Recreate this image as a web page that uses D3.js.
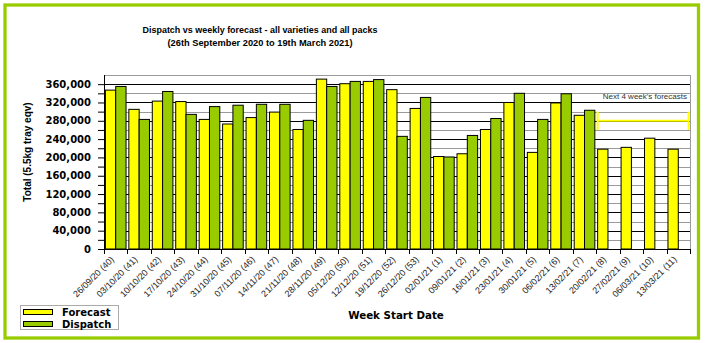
<!DOCTYPE html>
<html>
<head>
<meta charset="utf-8">
<script src="https://cdn.jsdelivr.net/npm/d3@7"></script>
<style>
  html, body { margin: 0; padding: 0; background: #fff; }
  svg { display: block; }
</style>
</head>
<body>
<svg id="chart" width="708" height="343"></svg>
<script>
const categories = [
  "26/09/20 (40)", "03/10/20 (41)", "10/10/20 (42)", "17/10/20 (43)", "24/10/20 (44)",
  "31/10/20 (45)", "07/11/20 (46)", "14/11/20 (47)", "21/11/20 (48)", "28/11/20 (49)",
  "05/12/20 (50)", "12/12/20 (51)", "19/12/20 (52)", "26/12/20 (53)", "02/01/21 (1)",
  "09/01/21 (2)", "16/01/21 (3)", "23/01/21 (4)", "30/01/21 (5)", "06/02/21 (6)",
  "13/02/21 (7)", "20/02/21 (8)", "27/02/21 (9)", "06/03/21 (10)", "13/03/21 (11)"
];
const forecast = [
  347000, 305000, 323000, 322000, 283000, 273000, 287000, 299000, 261000, 371000,
  361000, 366000, 348000, 307000, 202000, 208000, 261000, 320000, 211000, 319000,
  292000, 218000, 222000, 242000, 218000
];
const dispatch = [
  355000, 283000, 344000, 294000, 311000, 314000, 316000, 316000, 281000, 355000,
  366000, 370000, 246000, 331000, 201000, 248000, 285000, 340000, 283000, 339000,
  303000, null, null, null, null
];
const seriesNames = ["Forecast", "Dispatch"];
const seriesColors = ["#ffff00", "#99cc00"];
const yTickValues = d3.range(0, 380001, 20000);
const yLabelValues = d3.range(0, 360001, 40000);
const titleLines = [
  "Dispatch vs weekly forecast - all varieties and all packs",
  "(26th September 2020 to 19th March 2021)"
];
const annotationText = "Next 4 week's forecasts";
const bracketCats = ["20/02/21 (8)", "13/03/21 (11)"];
const bracketValues = [260000, 280000, 300000];

(function draw() {
const svg = d3.select("#chart");

// outer green border
svg.append("rect")
  .attr("x", 5).attr("y", 5).attr("width", 693.5).attr("height", 333)
  .attr("fill", "none").attr("stroke", "#99cc00").attr("stroke-width", 3.3);

const pL = 104, pR = 690, pT = 75, pB = 249;

const x = d3.scaleBand().domain(categories).range([pL, pR])
  .paddingInner(0.12).paddingOuter(0.06);
const xs = d3.scaleBand().domain(seriesNames).range([0, x.bandwidth()]);
const y = d3.scaleLinear().domain([0, 380000]).range([pB, pT]);

// gridlines
svg.append("g").selectAll("line")
  .data(yTickValues.filter(v => v > 0))
  .join("line")
  .attr("x1", pL).attr("x2", pR)
  .attr("y1", d => Math.round(y(d)) + 0.5).attr("y2", d => Math.round(y(d)) + 0.5)
  .attr("stroke", d => (d % 40000 === 0 && d <= 360000) ? "#000" : "#9a9a9a")
  .attr("stroke-width", 1);

// right plot border
svg.append("line")
  .attr("x1", pR + 0.5).attr("x2", pR + 0.5)
  .attr("y1", pT).attr("y2", pB)
  .attr("stroke", "#9a9a9a");

// bars
const rows = categories.map((c, i) => ({ c, vals: [forecast[i], dispatch[i]] }));
const groups = svg.append("g").selectAll("g")
  .data(rows).join("g")
  .attr("transform", d => `translate(${x(d.c)},0)`);
groups.selectAll("rect")
  .data(d => d.vals.map((v, j) => ({ name: seriesNames[j], v, j })).filter(e => e.v != null))
  .join("rect")
  .attr("x", e => xs(e.name))
  .attr("width", xs.bandwidth())
  .attr("y", e => y(e.v))
  .attr("height", e => y(0) - y(e.v))
  .attr("fill", e => seriesColors[e.j])
  .attr("stroke", "#000")
  .attr("stroke-width", 1);

// y axis
const yAxis = d3.axisLeft(y)
  .tickValues(yTickValues.filter(v => v <= 360000))
  .tickSize(6)
  .tickFormat(d => yLabelValues.includes(d) ? d3.format(",")(d) : "");
const gy = svg.append("g").attr("transform", `translate(${pL},0)`).call(yAxis);
gy.select(".domain").attr("d", `M0.5,${pT}V${pB}`).attr("stroke", "#000");
gy.selectAll(".tick line").attr("stroke", "#000");
gy.selectAll(".tick text")
  .attr("x", -13)
  .attr("font-family", "DejaVu Sans, sans-serif")
  .attr("font-weight", "bold")
  .attr("font-size", 10)
  .attr("fill", "#000");

// x axis
const gx = svg.append("g").attr("transform", `translate(0,${pB})`)
  .call(d3.axisBottom(x).tickSize(0).tickPadding(0));
gx.select(".domain").attr("d", `M${pL},0.5H${pR + 1}`).attr("stroke", "#000");
gx.selectAll(".tick text")
  .attr("text-anchor", "end")
  .attr("font-family", "Liberation Sans, Arial, sans-serif")
  .attr("font-size", 9)
  .attr("fill", "#222")
  .attr("dy", 0)
  .attr("transform", "translate(-1,11) rotate(-45)");
// boundary tick marks
const boundaries = d3.range(categories.length + 1).map(i => x.range()[0] + i * x.step());
svg.append("g").selectAll("line").data(boundaries).join("line")
  .attr("x1", d => Math.round(d) + 0.5).attr("x2", d => Math.round(d) + 0.5)
  .attr("y1", pB).attr("y2", pB + 5)
  .attr("stroke", "#000");

// bracket for next 4 weeks forecasts
const bx1 = x(bracketCats[0]);
const bx2 = x(bracketCats[1]) + x.bandwidth();
const bracket = svg.append("g").attr("stroke", "#ffff00").attr("stroke-width", 2);
bracket.append("line").attr("x1", bx1).attr("x2", bx2)
  .attr("y1", y(bracketValues[1])).attr("y2", y(bracketValues[1]));
[bx1, bx2].forEach(bx => {
  bracket.append("line").attr("x1", bx).attr("x2", bx)
    .attr("y1", y(bracketValues[2])).attr("y2", y(bracketValues[0]));
});

// annotation
svg.append("text")
  .attr("x", 687).attr("y", 99)
  .attr("text-anchor", "end")
  .attr("font-family", "Liberation Sans, Arial, sans-serif")
  .attr("font-size", 8)
  .attr("fill", "#333")
  .text(annotationText);

// title
const titleY = [33, 46];
const titleW = [235, 185];
titleLines.forEach((t, i) => {
  svg.append("text")
    .attr("x", 260).attr("y", titleY[i])
    .attr("text-anchor", "middle")
    .attr("font-family", "Liberation Sans Narrow, Liberation Sans, Arial, sans-serif")
    .attr("font-weight", "bold")
    .attr("font-size", 9.5)
    .attr("textLength", titleW[i])
    .attr("lengthAdjust", "spacingAndGlyphs")
    .attr("fill", "#000")
    .text(t);
});

// y axis title
svg.append("text")
  .attr("transform", "translate(31,152) rotate(-90)")
  .attr("text-anchor", "middle")
  .attr("font-family", "Liberation Sans, Arial, sans-serif")
  .attr("font-weight", "bold")
  .attr("font-size", 10)
  .attr("fill", "#000")
  .text("Total (5.5kg tray eqv)");

// x axis title
svg.append("text")
  .attr("x", 396).attr("y", 319)
  .attr("text-anchor", "middle")
  .attr("font-family", "DejaVu Sans, sans-serif")
  .attr("font-weight", "bold")
  .attr("font-size", 10.3)
  .attr("fill", "#000")
  .text("Week Start Date");

// legend
const lg = svg.append("g");
lg.append("rect").attr("x", 20.5).attr("y", 305.5).attr("width", 98).attr("height", 24)
  .attr("fill", "#fff").attr("stroke", "#aaa");
seriesNames.forEach((n, i) => {
  lg.append("rect").attr("x", 23.5).attr("y", 309.5 + i * 12).attr("width", 29).attr("height", 5)
    .attr("fill", seriesColors[i]).attr("stroke", "#000");
  lg.append("text").attr("x", 62).attr("y", 316 + i * 11.5)
    .attr("font-family", "DejaVu Sans, sans-serif")
    .attr("font-weight", "bold")
    .attr("font-size", 10)
    .attr("fill", "#000")
    .text(n);
});
})();
</script>
</body>
</html>
